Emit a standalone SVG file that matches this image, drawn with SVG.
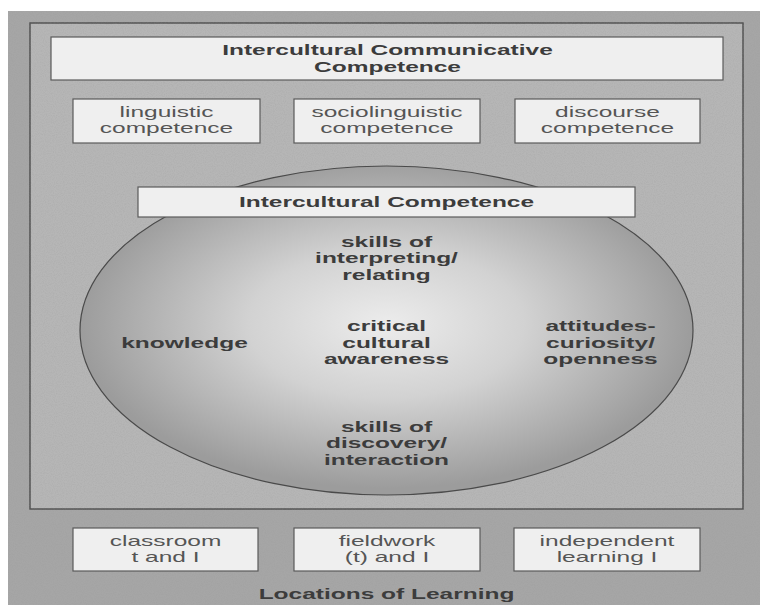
<svg xmlns="http://www.w3.org/2000/svg" width="760" height="605" viewBox="0 0 760 605">
  <defs>
    <radialGradient id="sphere" cx="0.5" cy="0.48" r="0.5">
      <stop offset="0" stop-color="#ececec"/>
      <stop offset="0.45" stop-color="#d2d2d2"/>
      <stop offset="1" stop-color="#9c9c9c"/>
    </radialGradient>
    <filter id="grain" x="0" y="0" width="100%" height="100%">
      <feTurbulence type="fractalNoise" baseFrequency="0.9" numOctaves="2" seed="3" result="n"/>
      <feColorMatrix type="matrix" values="0 0 0 0 0.3  0 0 0 0 0.3  0 0 0 0 0.3  0 0 0 -1.2 0.75" />
    </filter>
    <style>
      .box { fill: #efefef; stroke: #5a5a5a; stroke-width: 1.2; }
      .bold { font-family: "Liberation Sans", Arial, sans-serif; font-weight: bold; font-size: 14px; fill: #3c3c3c; text-anchor: middle; }
      .reg { font-family: "Liberation Sans", Arial, sans-serif; font-size: 14px; fill: #555555; text-anchor: middle; }
    </style>
  </defs>

  <!-- background -->
  <rect x="0" y="0" width="760" height="605" fill="#ffffff"/>
  <rect x="8" y="11" width="752" height="594" fill="#a6a6a6"/>
  <rect x="30" y="23" width="713" height="486" fill="#b6b6b6" stroke="#4a4a4a" stroke-width="1.4"/>
  <rect x="8" y="11" width="752" height="594" filter="url(#grain)" opacity="0.35"/>

  <g id="title">
    <rect class="box" x="51" y="37" width="672" height="43"/>
    <g transform="translate(387.5 0) scale(1.75 1)">
      <text class="bold" x="0" y="55">Intercultural Communicative</text>
      <text class="bold" x="0" y="72">Competence</text>
    </g>
  </g>

  <g id="linguistic">
    <rect class="box" x="73" y="99" width="187" height="44"/>
    <g transform="translate(166.5 0) scale(1.75 1)">
      <text class="reg" x="0" y="117">linguistic</text>
      <text class="reg" x="0" y="133">competence</text>
    </g>
  </g>

  <g id="sociolinguistic">
    <rect class="box" x="294" y="99" width="186" height="44"/>
    <g transform="translate(387 0) scale(1.75 1)">
      <text class="reg" x="0" y="117">sociolinguistic</text>
      <text class="reg" x="0" y="133">competence</text>
    </g>
  </g>

  <g id="discourse">
    <rect class="box" x="515" y="99" width="185" height="44"/>
    <g transform="translate(607.5 0) scale(1.75 1)">
      <text class="reg" x="0" y="117">discourse</text>
      <text class="reg" x="0" y="133">competence</text>
    </g>
  </g>

  <g id="sphere-node">
    <ellipse cx="386.5" cy="330.5" rx="306.5" ry="164.5" fill="url(#sphere)" stroke="#4a4a4a" stroke-width="1.2"/>
  </g>

  <g id="intercultural-competence">
    <rect class="box" x="138" y="187" width="497" height="30"/>
    <g transform="translate(386.5 0) scale(1.75 1)">
      <text class="bold" x="0" y="207">Intercultural Competence</text>
    </g>
  </g>

  <g id="interpreting">
    <g transform="translate(386.5 0) scale(1.75 1)">
      <text class="bold" x="0" y="247">skills of</text>
      <text class="bold" x="0" y="263.5">interpreting/</text>
      <text class="bold" x="0" y="280">relating</text>
    </g>
  </g>

  <g id="knowledge">
    <g transform="translate(184.5 0) scale(1.75 1)">
      <text class="bold" x="0" y="348">knowledge</text>
    </g>
  </g>

  <g id="critical">
    <g transform="translate(386.5 0) scale(1.75 1)">
      <text class="bold" x="0" y="331.5">critical</text>
      <text class="bold" x="0" y="348">cultural</text>
      <text class="bold" x="0" y="364.5">awareness</text>
    </g>
  </g>

  <g id="attitudes">
    <g transform="translate(600.5 0) scale(1.75 1)">
      <text class="bold" x="0" y="331.5">attitudes-</text>
      <text class="bold" x="0" y="348">curiosity/</text>
      <text class="bold" x="0" y="364.5">openness</text>
    </g>
  </g>

  <g id="discovery">
    <g transform="translate(386.5 0) scale(1.75 1)">
      <text class="bold" x="0" y="432">skills of</text>
      <text class="bold" x="0" y="448.5">discovery/</text>
      <text class="bold" x="0" y="465">interaction</text>
    </g>
  </g>

  <g id="classroom">
    <rect class="box" x="73" y="528" width="185" height="43"/>
    <g transform="translate(165.5 0) scale(1.75 1)">
      <text class="reg" x="0" y="546.5">classroom</text>
      <text class="reg" x="0" y="562">t and I</text>
    </g>
  </g>

  <g id="fieldwork">
    <rect class="box" x="294" y="528" width="186" height="43"/>
    <g transform="translate(387 0) scale(1.75 1)">
      <text class="reg" x="0" y="546.5">fieldwork</text>
      <text class="reg" x="0" y="562">(t) and I</text>
    </g>
  </g>

  <g id="independent">
    <rect class="box" x="514" y="528" width="186" height="43"/>
    <g transform="translate(607 0) scale(1.75 1)">
      <text class="reg" x="0" y="546.5">independent</text>
      <text class="reg" x="0" y="562">learning I</text>
    </g>
  </g>

  <g id="locations-label">
    <g transform="translate(386.5 0) scale(1.75 1)">
      <text class="bold" x="0" y="599">Locations of Learning</text>
    </g>
  </g>

  <g id="connectors"></g>
</svg>
